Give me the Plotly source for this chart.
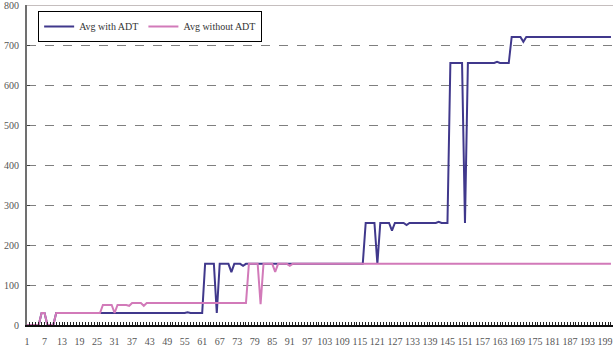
import plotly.graph_objects as go

# Category index along the x axis (1 .. 201)
categories = list(range(1, 202))

# Average with ADT
avg_with_adt = [
    0, 0, 0, 0, 0, 30, 30, 0, 0, 0,
    30, 30, 30, 30, 30, 30, 30, 30, 30, 30,
    30, 30, 30, 30, 30, 30, 30, 30, 30, 30,
    30, 30, 30, 30, 30, 30, 30, 30, 30, 30,
    30, 30, 30, 30, 30, 30, 30, 30, 30, 30,
    30, 30, 30, 30, 30, 32, 30, 30, 30, 30,
    30, 153, 153, 153, 153, 30, 153, 153, 153, 153,
    132, 153, 153, 153, 148, 153, 153, 153, 153, 153,
    153, 153, 153, 153, 153, 153, 153, 153, 153, 153,
    153, 153, 153, 153, 153, 153, 153, 153, 153, 153,
    153, 153, 153, 153, 153, 153, 153, 153, 153, 153,
    153, 153, 153, 153, 153, 153, 255, 255, 255, 255,
    153, 255, 255, 255, 255, 236, 255, 255, 255, 255,
    250, 255, 255, 255, 255, 255, 255, 255, 255, 255,
    255, 258, 255, 255, 255, 655, 655, 655, 655, 655,
    255, 655, 655, 655, 655, 655, 655, 655, 655, 655,
    655, 658, 655, 655, 655, 655, 720, 720, 720, 720,
    708, 720, 720, 720, 720, 720, 720, 720, 720, 720,
    720, 720, 720, 720, 720, 720, 720, 720, 720, 720,
    720, 720, 720, 720, 720, 720, 720, 720, 720, 720,
    720,
]

# Average without ADT
avg_without_adt = [
    0, 0, 0, 0, 0, 30, 30, 0, 0, 0,
    30, 30, 30, 30, 30, 30, 30, 30, 30, 30,
    30, 30, 30, 30, 30, 30, 50, 50, 50, 50,
    30, 50, 50, 50, 50, 48, 55, 55, 55, 55,
    48, 55, 55, 55, 55, 55, 55, 55, 55, 55,
    55, 55, 55, 55, 55, 55, 55, 55, 55, 55,
    55, 55, 55, 55, 55, 55, 55, 55, 55, 55,
    55, 55, 55, 55, 55, 55, 153, 153, 153, 153,
    52, 153, 153, 153, 153, 133, 153, 153, 153, 153,
    148, 153, 153, 153, 153, 153, 153, 153, 153, 153,
    153, 153, 153, 153, 153, 153, 153, 153, 153, 153,
    153, 153, 153, 153, 153, 153, 153, 153, 153, 153,
    153, 153, 153, 153, 153, 153, 153, 153, 153, 153,
    153, 153, 153, 153, 153, 153, 153, 153, 153, 153,
    153, 153, 153, 153, 153, 153, 153, 153, 153, 153,
    153, 153, 153, 153, 153, 153, 153, 153, 153, 153,
    153, 153, 153, 153, 153, 153, 153, 153, 153, 153,
    153, 153, 153, 153, 153, 153, 153, 153, 153, 153,
    153, 153, 153, 153, 153, 153, 153, 153, 153, 153,
    153, 153, 153, 153, 153, 153, 153, 153, 153, 153,
    153,
]

x_tick_labels = list(range(1, 202, 6))
y_tick_values = list(range(0, 801, 100))

label_font = dict(family="Liberation Serif", size=10, color="#555555")

fig = go.Figure()
fig.add_trace(go.Scatter(
    x=categories, y=avg_with_adt, mode="lines", name="Avg with ADT",
    line=dict(color="#40388C", width=2),
))
fig.add_trace(go.Scatter(
    x=categories, y=avg_without_adt, mode="lines", name="Avg without ADT",
    line=dict(color="#D27AB9", width=2),
))

fig.update_layout(
    width=613, height=351,
    margin=dict(l=27, r=0, t=5, b=26),
    paper_bgcolor="white", plot_bgcolor="white",
    showlegend=True,
    legend=dict(
        orientation="h", x=0.019, y=0.981, xanchor="left", yanchor="top",
        bgcolor="white", bordercolor="black", borderwidth=1,
        font=dict(family="Liberation Serif", size=10, color="#333333"),
    ),
    xaxis=dict(
        range=[1, 201.7], tickmode="array", tickvals=x_tick_labels,
        ticktext=[str(v) for v in x_tick_labels],
        ticks="inside", ticklen=3, tickcolor="#222222",
        minor=dict(ticks="inside", ticklen=3, dtick=1, tick0=1, tickcolor="#222222"),
        showgrid=False, zeroline=False,
        showline=True, linecolor="#111111", linewidth=1.5,
        tickfont=label_font, ticklabelstandoff=6,
    ),
    yaxis=dict(
        range=[0, 800], tickmode="array", tickvals=y_tick_values,
        ticks="inside", ticklen=3, tickcolor="#444444",
        showgrid=True, gridcolor="#7f7f7f", griddash="dash", gridwidth=1,
        zeroline=False, showline=True, linecolor="#707070", linewidth=2,
        tickfont=label_font, ticklabelstandoff=4, ticklabeloverflow="allow",
    ),
    shapes=[dict(
        type="line", xref="paper", yref="y", x0=0, x1=1, y0=800, y1=800,
        line=dict(color="#8c7f7f", width=1), layer="above",
    )],
)

fig.write_html("out.html")
